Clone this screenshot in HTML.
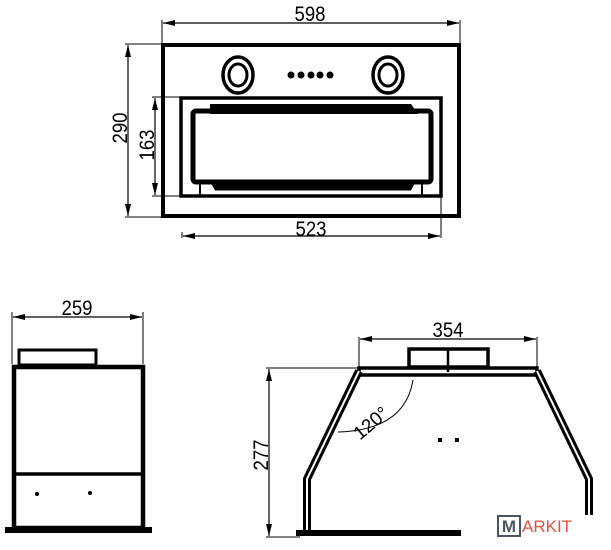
<!DOCTYPE html>
<html><head><meta charset="utf-8"><style>
html,body{margin:0;padding:0;background:#fff}
svg{display:block}
text{font-family:"Liberation Sans",sans-serif;fill:#000}
</style></head><body>
<svg width="611" height="550" viewBox="0 0 611 550" xmlns="http://www.w3.org/2000/svg">
<defs>
<marker id="a" markerWidth="12" markerHeight="6" refX="12" refY="3" orient="auto" markerUnits="userSpaceOnUse"><path d="M0,0 L12,3 L0,6 Z" fill="#000"/></marker>
<marker id="b" markerWidth="12" markerHeight="6" refX="0" refY="3" orient="auto" markerUnits="userSpaceOnUse"><path d="M12,0 L0,3 L12,6 Z" fill="#000"/></marker>
</defs>
<g stroke="#000" fill="none">
<!-- TOP VIEW -->
<line x1="162" y1="20" x2="162" y2="44" stroke-width="1"/>
<line x1="460" y1="20" x2="460" y2="44" stroke-width="1"/>
<line x1="163" y1="23" x2="459" y2="23" stroke-width="1.2" marker-start="url(#b)" marker-end="url(#a)"/>
<line x1="125" y1="44" x2="162" y2="44" stroke-width="1"/>
<line x1="125" y1="217" x2="162" y2="217" stroke-width="1"/>
<line x1="128" y1="45" x2="128" y2="216" stroke-width="1.2" marker-start="url(#b)" marker-end="url(#a)"/>
<line x1="152" y1="97" x2="180" y2="97" stroke-width="1"/>
<line x1="152" y1="196" x2="180" y2="196" stroke-width="1"/>
<line x1="155" y1="98" x2="155" y2="195" stroke-width="1.2" marker-start="url(#b)" marker-end="url(#a)"/>
<rect x="163" y="45" width="296" height="171" stroke-width="4"/>
<rect x="181" y="98" width="260" height="98" stroke-width="3.5"/>
<rect x="193" y="111" width="238" height="71" rx="3" stroke-width="5"/>
<path d="M212,106 L410,106 L414,112 L212,112 Z" fill="#000" stroke-width="4"/>
<path d="M212,182 L414,182 L410,189 L216,189 Z" fill="#000" stroke-width="3"/>
<line x1="200" y1="183" x2="200" y2="195" stroke-width="2"/>
<line x1="422" y1="183" x2="422" y2="195" stroke-width="2"/>
<ellipse cx="238" cy="75" rx="15" ry="18" stroke-width="3.5"/>
<ellipse cx="238" cy="75" rx="9" ry="11" stroke-width="3"/>
<ellipse cx="388" cy="75" rx="15" ry="18" stroke-width="3.5"/>
<ellipse cx="388" cy="75" rx="9" ry="11" stroke-width="3"/>
<line x1="182" y1="232" x2="182" y2="238" stroke-width="1"/>
<line x1="441" y1="197" x2="441" y2="238" stroke-width="1"/>
<line x1="183" y1="236" x2="440" y2="236" stroke-width="1.2" marker-start="url(#b)" marker-end="url(#a)"/>
<!-- SIDE VIEW -->
<line x1="12" y1="312" x2="12" y2="364" stroke-width="1"/>
<line x1="143" y1="312" x2="143" y2="364" stroke-width="1"/>
<line x1="13" y1="317" x2="142" y2="317" stroke-width="1.2" marker-start="url(#b)" marker-end="url(#a)"/>
<rect x="19" y="350" width="77" height="15" stroke-width="3"/>
<rect x="14" y="367" width="129" height="161" stroke-width="4.5"/>
<line x1="14" y1="474" x2="143" y2="474" stroke-width="3.5"/>
<line x1="5" y1="530" x2="152" y2="530" stroke-width="6"/>
<!-- FRONT VIEW -->
<line x1="359" y1="337" x2="359" y2="368" stroke-width="1"/>
<line x1="537" y1="337" x2="537" y2="368" stroke-width="1"/>
<line x1="360" y1="339" x2="536" y2="339" stroke-width="1.2" marker-start="url(#b)" marker-end="url(#a)"/>
<line x1="266" y1="368" x2="358" y2="368" stroke-width="1"/>
<line x1="266" y1="537" x2="300" y2="537" stroke-width="1"/>
<line x1="269" y1="369" x2="269" y2="536" stroke-width="1.2" marker-start="url(#b)" marker-end="url(#a)"/>
<rect x="409" y="349" width="79" height="18" stroke-width="3.5"/>
<line x1="448" y1="349" x2="448" y2="372" stroke-width="2.5"/>
<rect x="359" y="368" width="178" height="7" stroke-width="3.5"/>
<path d="M359,371 L307,479 L307,532" stroke-width="8" stroke-linejoin="round"/>
<path d="M359,371 L307,479 L307,532" stroke="#fff" stroke-width="2"/>
<path d="M537,371 L589,479 L589,515" stroke-width="8" stroke-linejoin="round"/>
<path d="M537,371 L589,479 L589,515" stroke="#fff" stroke-width="2"/>
<line x1="296" y1="533" x2="461" y2="533" stroke-width="6"/>
<path d="M413,380 Q405,430 338,432" stroke-width="1"/>
</g>
<g fill="#000">
<circle cx="291" cy="75" r="3.5"/><circle cx="301" cy="75" r="3.5"/><circle cx="311" cy="75" r="3.5"/><circle cx="320" cy="75" r="3.5"/><circle cx="330" cy="75" r="3.5"/>
<circle cx="37" cy="494" r="2"/><circle cx="90" cy="493" r="2"/>
<rect x="438" y="438" width="4" height="4"/><rect x="455" y="438" width="4" height="4"/>
</g>
<g font-size="21" text-anchor="middle" lengthAdjust="spacingAndGlyphs">
<text x="310" y="21" textLength="31" lengthAdjust="spacingAndGlyphs">598</text>
<text x="311" y="236" textLength="31" lengthAdjust="spacingAndGlyphs">523</text>
<text transform="translate(127,128) rotate(-90)" textLength="31" lengthAdjust="spacingAndGlyphs">290</text>
<text transform="translate(154,145) rotate(-90)" textLength="31" lengthAdjust="spacingAndGlyphs">163</text>
<text x="77" y="315" textLength="31" lengthAdjust="spacingAndGlyphs">259</text>
<text x="448" y="337" textLength="31" lengthAdjust="spacingAndGlyphs">354</text>
<text transform="translate(268,455) rotate(-90)" textLength="31" lengthAdjust="spacingAndGlyphs">277</text>
</g>
<text transform="translate(375,428) rotate(-40)" font-size="19" text-anchor="middle" font-family="Liberation Serif">120°</text>
<rect x="498" y="516" width="22" height="20" fill="none" stroke="#4a5560" stroke-width="2"/>
<text x="509" y="532" font-size="17" text-anchor="middle" style="fill:#4a5560;font-weight:bold">M</text>
<text x="522" y="532" font-size="17" style="fill:#e0523f">ARKIT</text>
</svg>
</body></html>
